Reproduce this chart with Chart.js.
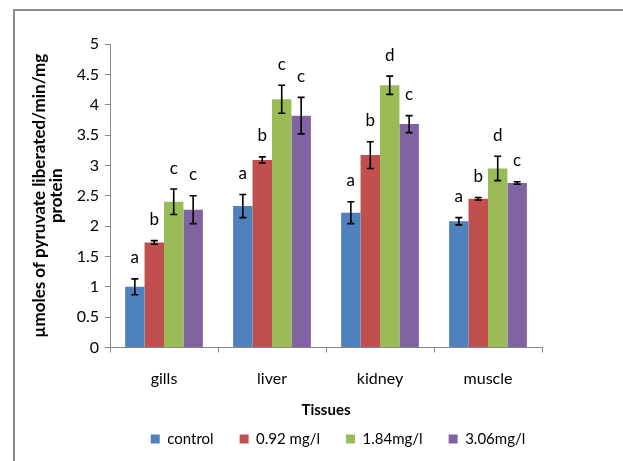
<!DOCTYPE html>
<html>
<head>
<meta charset="utf-8">
<script src="https://cdn.jsdelivr.net/npm/chart.js@4.4.1/dist/chart.umd.min.js"></script>
<style>
html,body{margin:0;padding:0;background:#fff;overflow:hidden}
#wrap{position:relative;width:623px;height:461px}
</style>
</head>
<body>
<div id="wrap"><canvas id="c" width="623" height="461"></canvas></div>
<script>
// ---- data ----
const categories = ['gills', 'liver', 'kidney', 'muscle'];
const seriesNames = ['control', '0.92 mg/l', '1.84mg/l', '3.06mg/l'];
const controlValues = [1.00, 2.33, 2.22, 2.08];
const conc092Values = [1.73, 3.09, 3.17, 2.45];
const conc184Values = [2.40, 4.09, 4.32, 2.95];
const conc306Values = [2.27, 3.82, 3.68, 2.71];
const controlErrors = [0.13, 0.19, 0.18, 0.06];
const conc092Errors = [0.03, 0.05, 0.22, 0.02];
const conc184Errors = [0.21, 0.23, 0.15, 0.20];
const conc306Errors = [0.23, 0.30, 0.14, 0.02];
const controlLetters = ['a', 'a', 'a', 'a'];
const conc092Letters = ['b', 'b', 'b', 'b'];
const conc184Letters = ['c', 'c', 'd', 'd'];
const conc306Letters = ['c', 'c', 'c', 'c'];
const yTickValues = [0, 0.5, 1, 1.5, 2, 2.5, 3, 3.5, 4, 4.5, 5];
const yTickLabels = ['0', '0.5', '1', '1.5', '2', '2.5', '3', '3.5', '4', '4.5', '5'];
const yTitle = ['µmoles of pyruvate liberated/min/mg', 'protein'];
const xTitle = 'Tissues';

const seriesColors = ['#4F81BD', '#C0504D', '#9BBB59', '#8064A2'];
const allValues = [controlValues, conc092Values, conc184Values, conc306Values];
const allErrors = [controlErrors, conc092Errors, conc184Errors, conc306Errors];
const allLetters = [controlLetters, conc092Letters, conc184Letters, conc306Letters];

const FONT = 'Lato, "Open Sans", "DejaVu Sans", sans-serif';
const axisGray = '#868686';

const frame = {
  id: 'frame',
  beforeDraw(chart) {
    const ctx = chart.ctx;
    ctx.save();
    ctx.strokeStyle = '#8c8c8c';
    ctx.lineWidth = 2;
    ctx.beginPath();
    ctx.moveTo(14, 461);
    ctx.lineTo(14, 10);
    ctx.lineTo(623, 10);
    ctx.stroke();
    ctx.restore();
  }
};

const legendShift = {
  id: 'legendShift',
  afterLayout(chart) {
    const lg = chart.legend;
    if (lg) { lg.left += 12; lg.right += 12; }
  }
};

const errorBars = {
  id: 'errorBars',
  afterDatasetsDraw(chart) {
    const ctx = chart.ctx;
    const ys = chart.scales.y;
    ctx.save();
    chart.data.datasets.forEach((ds, d) => {
      const meta = chart.getDatasetMeta(d);
      meta.data.forEach((bar, i) => {
        const v = allValues[d][i], e = allErrors[d][i];
        const x = bar.x;
        const yt = ys.getPixelForValue(v + e);
        const yb = ys.getPixelForValue(v - e);
        ctx.strokeStyle = '#000';
        ctx.lineWidth = 1.6;
        ctx.beginPath();
        ctx.moveTo(x, yt); ctx.lineTo(x, yb);
        ctx.moveTo(x - 3.5, yt); ctx.lineTo(x + 3.5, yt);
        ctx.moveTo(x - 3.5, yb); ctx.lineTo(x + 3.5, yb);
        ctx.stroke();
        ctx.fillStyle = '#000';
        ctx.font = '17px ' + FONT;
        ctx.textAlign = 'center';
        ctx.textBaseline = 'middle';
        ctx.fillText(allLetters[d][i], x, yt - 21);
      });
    });
    ctx.restore();
  }
};

new Chart(document.getElementById('c'), {
  type: 'bar',
  data: {
    labels: categories,
    datasets: seriesNames.map((name, d) => ({
      label: name,
      data: allValues[d],
      backgroundColor: seriesColors[d],
      borderWidth: 0,
      barPercentage: 1,
      categoryPercentage: 0.72
    }))
  },
  options: {
    responsive: false,
    animation: false,
    devicePixelRatio: 1,
    layout: { padding: { left: 0, right: 81, top: 44, bottom: 4.5 } },
    plugins: {
      tooltip: { enabled: false },
      legend: {
        position: 'bottom',
        fullSize: false,
        labels: {
          boxWidth: 9, boxHeight: 9, padding: 26,
          color: '#000',
          font: { family: FONT, size: 15 }
        }
      }
    },
    scales: {
      x: {
        ticks: { color: '#000', font: { family: FONT, size: 16 }, padding: 17 },
        grid: { offset: true, drawOnChartArea: false, tickLength: 5, color: axisGray },
        border: { color: axisGray, width: 1 },
        title: {
          display: true, text: xTitle, color: '#000',
          font: { family: FONT, size: 15, weight: 'bold' },
          padding: { top: 0, bottom: -13.5 }
        },
        afterFit(s) { s.height = 58; }
      },
      y: {
        min: 0, max: 5,
        afterBuildTicks(s) { s.ticks = yTickValues.map(v => ({ value: v })); },
        ticks: {
          color: '#000', font: { family: FONT, size: 16 }, padding: 6,
          callback: (v, i) => yTickLabels[i]
        },
        grid: { drawOnChartArea: false, tickLength: 5, color: axisGray },
        border: { color: axisGray, width: 1 },
        title: {
          display: true, text: yTitle, color: '#000',
          font: { family: FONT, size: 17, weight: 'bold', lineHeight: 1.0 },
          padding: { top: 31.5, bottom: 0 }
        },
        afterFit(s) { s.width = 110; }
      }
    }
  },
  plugins: [frame, legendShift, errorBars]
});
</script>
</body>
</html>
